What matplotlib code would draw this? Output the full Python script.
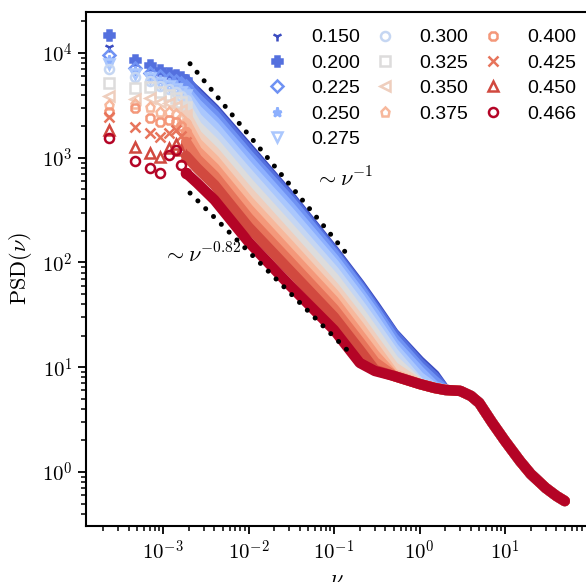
import numpy as np
import matplotlib
matplotlib.use('Agg')
import matplotlib.pyplot as plt
from matplotlib.ticker import FuncFormatter, LogLocator

plt.rcParams['mathtext.fontset'] = 'cm'
plt.rcParams['font.family'] = ['Liberation Sans', 'DejaVu Sans']

# legend labels and marker of each run
labels = ['0.150', '0.200', '0.225', '0.250', '0.275', '0.300', '0.325',
          '0.350', '0.375', '0.400', '0.425', '0.450', '0.466']
markers = ['1', 'P', 'D', '*', 'v', 'o', 's', '<', 'p', '8', 'x', '^', 'o']

freq = [2.33e-4, 4.66e-4, 6.99e-4, 9.32e-4, 1.165e-3, 1.40e-3, 1.63e-3, 1.86e-3,
        2.5e-3, 4e-3, 1e-2, 3e-2, 0.1, 0.2, 0.3, 0.5, 1.0, 1.5]

psd_150 = [11410, 8030, 7190, 6590, 6170, 5900, 5650, 5290,
           4250, 2920, 1240, 440, 130, 62.0, 39.0, 21.2, 11.5, 8.44]
psd_200 = [14850, 8580, 7680, 6890, 6450, 6170, 5900, 5530,
           4060, 2800, 1185, 425, 126, 60.0, 37.5, 20.8, 11.0, 8.08]
psd_225 = [9570, 7190, 6450, 6030, 5650, 5410, 5170, 4840,
           3720, 2560, 1060, 395, 120.5, 57.1, 35.2, 19.0, 10.06, 7.40]
psd_250 = [8580, 6740, 6030, 5530, 5170, 4950, 4630, 4340,
           3260, 2240, 952, 346, 108, 51.2, 32.3, 17.05, 9.21, 6.63]
psd_275 = [7850, 6300, 5770, 5170, 4840, 4530, 4250, 3970,
           2860, 1970, 816, 304, 96.8, 45.9, 28.3, 15.3, 8.08, 6.34]
psd_300 = [7040, 5900, 5410, 4840, 4530, 4250, 3890, 3560,
           2400, 1650, 700, 255, 83.0, 39.3, 24.8, 13.7, 7.08, 6.34]
psd_325 = [5170, 4630, 4740, 4250, 3970, 3720, 3410, 3050,
           2010, 1385, 574, 214, 71.2, 33.7, 21.2, 11.7, 6.92, 6.34]
psd_350 = [3890, 3640, 3720, 3410, 3330, 3120, 2860, 2560,
           1650, 1135, 471, 175, 58.4, 28.3, 17.8, 10.06, 6.92, 6.34]
psd_375 = [3190, 3260, 3050, 2740, 2740, 2620, 2400, 2150,
           1385, 952, 387, 147, 50.1, 24.2, 15.3, 8.63, 6.92, 6.34]
psd_400 = [2740, 2990, 2400, 2200, 2290, 2200, 2010, 1760,
           1160, 798, 324, 123, 42.9, 20.3, 13.1, 8.26, 6.92, 6.34]
psd_425 = [2450, 1970, 1720, 1580, 1720, 1840, 1610, 1415,
           973, 670, 266, 103, 36.0, 17.4, 11.2, 8.26, 6.92, 6.34]
psd_450 = [1840, 1265, 1110, 1015, 1240, 1355, 1185, 1040,
           798, 550, 218, 84.8, 30.2, 14.6, 9.42, 8.26, 6.92, 6.34]
psd_466 = [1545, 931, 798, 716, 1060, 1185, 853, 716,
           574, 395, 157, 61.0, 22.7, 11.0, 9.21, 8.26, 6.92, 6.34]

# high frequency part, the same for all runs
tail_freq = [2, 3, 4, 5, 7, 10, 15, 20, 30, 40, 50]
tail_psd = [6.07, 5.94, 5.32, 4.56, 3.00, 1.98, 1.27, 0.957, 0.703, 0.590, 0.528]

# guide lines ~nu^-1 and ~nu^-0.82
guide1_x = [2.07e-3, 0.142]
guide1_y = [7900, 120]
guide2_x = [2.07e-3, 0.154]
guide2_y = [460, 13.7]

all_psd = [psd_150, psd_200, psd_225, psd_250, psd_275, psd_300, psd_325,
           psd_350, psd_375, psd_400, psd_425, psd_450, psd_466]
colors = plt.cm.coolwarm(np.linspace(0, 1, len(labels)))
open_markers = 'Dvos<p8^'

fig = plt.figure(figsize=(5.86, 5.82), dpi=100)
ax = fig.add_axes([0.1468, 0.0962, 0.8558, 0.8832])

n_single = 8
for psd, lab, m, c in zip(all_psd, labels, markers, colors):
    f = list(freq) + tail_freq
    p = list(psd) + tail_psd
    # dense part of the spectrum as a thick band
    ax.plot(f[n_single - 1:], p[n_single - 1:], '-', color=c, lw=7.5,
            solid_capstyle='round', solid_joinstyle='round')
    fc = 'none' if m in open_markers else c
    ax.plot(f[:n_single], p[:n_single], ls='none', marker=m, ms=6.5, mew=1.8,
            color=c, mfc=fc, label=lab)

# round dots for the guide lines
for gx, gy in [(guide1_x, guide1_y), (guide2_x, guide2_y)]:
    ax.plot(gx, gy, color='k', lw=3.6, ls=(0, (0.01, 2.2)),
            dash_capstyle='round')
ax.text(0.06, 526, r'$\sim\nu^{-1}$', fontsize=16, va='baseline')
ax.text(1e-3, 99, r'$\sim\nu^{-0.82}$', fontsize=16, va='baseline')

ax.set_xscale('log')
ax.set_yscale('log')
ax.set_xlim(1.257e-4, 92.3)
ax.set_ylim(0.305, 24620)

fmt = FuncFormatter(lambda v, pos: r'$10^{%d}$' % round(np.log10(v)))
ax.xaxis.set_major_formatter(fmt)
ax.yaxis.set_major_formatter(fmt)
ax.xaxis.set_major_locator(LogLocator(base=10, numticks=20))
ax.yaxis.set_major_locator(LogLocator(base=10, numticks=20))
ax.tick_params(which='major', length=6, width=1.3, labelsize=15)
ax.tick_params(which='minor', length=3.5, width=1.1)
for s in ax.spines.values():
    s.set_linewidth(1.5)

ax.set_xlabel(r'$\nu$', fontsize=16)
ax.set_ylabel(r'$\mathrm{PSD}(\nu)$', fontsize=16)
ax.xaxis.set_label_coords(0.5, -0.083)
ax.yaxis.set_label_coords(-0.104, 0.5)

ax.legend(ncol=3, frameon=False, fontsize=14, loc='upper right',
          bbox_to_anchor=(0.997, 0.964), bbox_transform=fig.transFigure,
          handlelength=1.0, handletextpad=1.25, columnspacing=0.8,
          labelspacing=0.4, borderpad=0.4, borderaxespad=0)

fig.savefig('out.png', dpi=100)
